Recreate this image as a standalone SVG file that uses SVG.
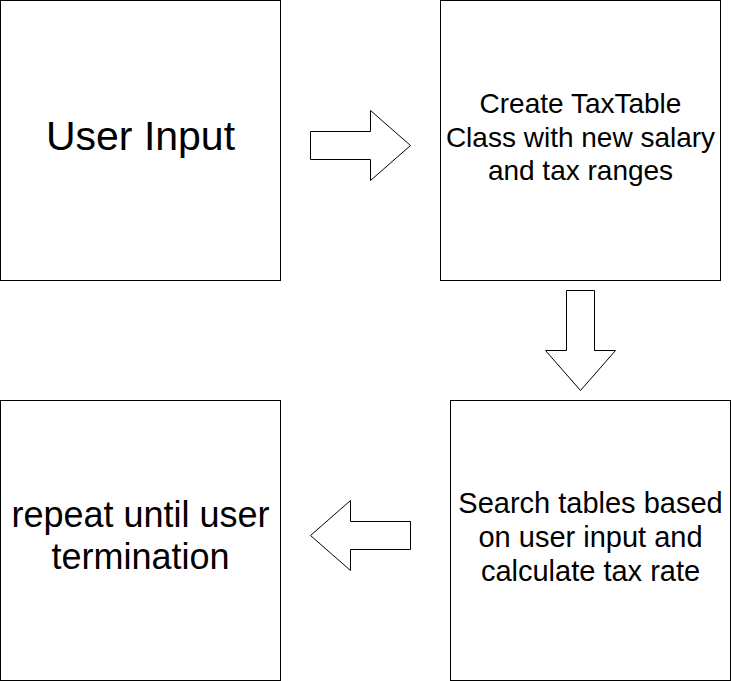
<svg xmlns="http://www.w3.org/2000/svg" width="731" height="681" viewBox="0 0 731 681">
<style>
.box{fill:#ffffff;stroke:#000000;stroke-width:1}
.arr{fill:#ffffff;stroke:#000000;stroke-width:1;stroke-linejoin:miter}
text{font-family:"Liberation Sans",Arial,Helvetica,sans-serif;fill:#000000;text-anchor:middle}
.t28{font-size:28px}
.t29{font-size:29px}
.t36{font-size:36px}
.t41{font-size:41px}
</style>
<rect width="731" height="681" fill="#ffffff"/>
<g id="node-user-input">
<rect class="box" x="0.5" y="0.5" width="280" height="280"/>
<text class="t41" x="140.5" y="150">User Input</text>
</g>
<g id="node-create-taxtable">
<rect class="box" x="440.5" y="0.5" width="280" height="280"/>
<text class="t28" x="580.5" y="113">Create TaxTable</text>
<text class="t28" x="580.5" y="146.6">Class with new salary</text>
<text class="t28" x="580.5" y="180.2">and tax ranges</text>
</g>
<g id="node-search-tables">
<rect class="box" x="450.5" y="400.5" width="280" height="280"/>
<text class="t29" x="590.5" y="512.5">Search tables based</text>
<text class="t29" x="590.5" y="546.5">on user input and</text>
<text class="t29" x="590.5" y="580.5">calculate tax rate</text>
</g>
<g id="node-repeat">
<rect class="box" x="0.5" y="400.5" width="280" height="280"/>
<text class="t36" x="140.5" y="527">repeat until user</text>
<text class="t36" x="140.5" y="569">termination</text>
</g>
<g id="connectors">
<path class="arr" d="M310.5 131.5 L370.5 131.5 L370.5 110.5 L410.5 145.5 L370.5 180.5 L370.5 159.5 L310.5 159.5 Z"/>
<path class="arr" d="M566.5 290.5 L594.5 290.5 L594.5 350.5 L615.5 350.5 L580.5 390.5 L545.5 350.5 L566.5 350.5 Z"/>
<path class="arr" d="M410.5 521.5 L350.5 521.5 L350.5 500.5 L310.5 535.5 L350.5 570.5 L350.5 549.5 L410.5 549.5 Z"/>
</g>
</svg>
